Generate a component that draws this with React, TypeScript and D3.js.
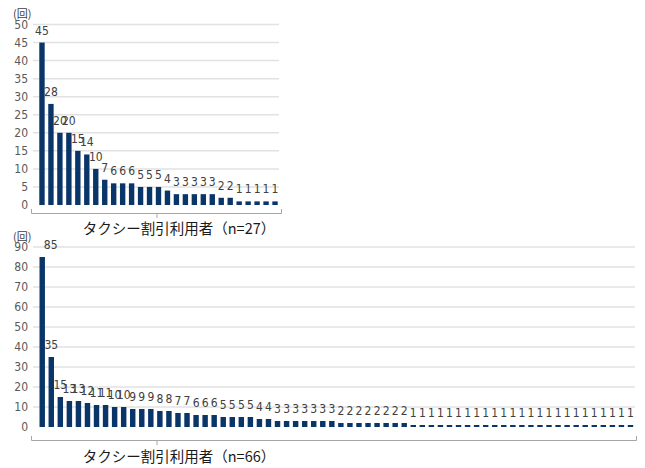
import React from "react";
import * as d3 from "d3";

const topValues = [45, 28, 20, 20, 15, 14, 10, 7, 6, 6, 6, 5, 5, 5, 4, 3, 3, 3, 3, 3, 2, 2, 1, 1, 1, 1, 1];
const bottomValues = [
  85, 35, 15, 13, 13, 12, 11, 11, 10, 10, 9, 9, 9, 8, 8, 7, 7, 6, 6, 6, 5, 5, 5, 5, 4, 4,
  3, 3, 3, 3, 3, 3, 3,
  2, 2, 2, 2, 2, 2, 2, 2,
  1, 1, 1, 1, 1, 1, 1, 1, 1, 1, 1, 1, 1, 1, 1, 1, 1, 1, 1, 1, 1, 1, 1, 1, 1,
];
const topTicks = [0, 5, 10, 15, 20, 25, 30, 35, 40, 45, 50];
const bottomTicks = [0, 10, 20, 30, 40, 50, 60, 70, 80, 90];
const topTitle = "タクシー割引利用者（n=27）";
const bottomTitle = "タクシー割引利用者（n=66）";
const unitLabel = "(回)";

const BAR = "#0a3568";
const NUM_FONT = "'Liberation Sans Narrow', 'Arial Narrow', 'DejaVu Sans Condensed', sans-serif";
const JP_FONT = "'Noto Sans CJK JP', sans-serif";

type PanelProps = {
  values: number[];
  ticks: number[];
  title: string;
  yTop: number;
  yBase: number;
  xStart: number;
  xEnd: number;
  gridLeft: number;
  gridRight: number;
  axisY: number;
  axisLeft: number;
  axisRight: number;
  titleY: number;
  unitY: number;
  firstLabelDx: number;
};

function Panel(p: PanelProps) {
  const max = p.ticks[p.ticks.length - 1];
  const x = d3
    .scaleBand<number>()
    .domain(p.values.map((_, i) => i))
    .range([p.xStart, p.xEnd])
    .paddingInner(0.4)
    .paddingOuter(0.2);
  const y = d3.scaleLinear().domain([0, max]).range([p.yBase, p.yTop]);
  const bw = x.bandwidth();
  const tickX = 157;
  const titleX = 179;
  return (
    <g>
      <text x={13} y={p.unitY} fontSize={11} fill="#404040" fontFamily={JP_FONT}>
        {unitLabel}
      </text>
      {p.ticks.map((t) => (
        <g key={t}>
          {t > 0 && (
            <line
              x1={p.gridLeft}
              x2={p.gridRight}
              y1={y(t)}
              y2={y(t)}
              stroke="#e2e2e2"
              strokeWidth={1.5}
            />
          )}
          <text
            x={28}
            y={y(t)}
            dy="0.35em"
            textAnchor="end"
            fontSize={12}
            fill="#595959"
            fontFamily={NUM_FONT}
          >
            {t}
          </text>
        </g>
      ))}
      {p.values.map((v, i) => (
        <g key={i}>
          <rect x={x(i)} y={y(v)} width={bw} height={p.yBase - y(v)} fill={BAR} />
          <text
            x={(x(i) as number) + bw / 2 + (i === 0 ? p.firstLabelDx : 0)}
            y={y(v) - 8}
            textAnchor="middle"
            fontSize={12}
            fill="#404040"
            fontFamily={NUM_FONT}
          >
            {v}
          </text>
        </g>
      ))}
      <path
        d={`M${p.axisLeft},${p.axisY - 4.5}V${p.axisY}H${p.axisRight}V${p.axisY - 4.5}`}
        fill="none"
        stroke="#a6a6a6"
        strokeWidth={1}
      />
      <line x1={tickX} x2={tickX} y1={p.axisY} y2={p.axisY + 4.5} stroke="#a6a6a6" strokeWidth={1} />
      <text x={titleX} y={p.titleY} textAnchor="middle" fontSize={14.5} fill="#1a1a1a" fontFamily={JP_FONT}>
        {p.title}
      </text>
    </g>
  );
}

export default function App() {
  return (
    <div style={{ position: "fixed", left: 0, top: 0 }}>
      <svg width={645} height={468} style={{ display: "block", background: "#fff" }}>
        <Panel
          values={topValues}
          ticks={topTicks}
          title={topTitle}
          yTop={24.5}
          yBase={205}
          xStart={37.5}
          xEnd={279.5}
          gridLeft={33}
          gridRight={279}
          axisY={213.5}
          axisLeft={31.5}
          axisRight={281.5}
          titleY={234}
          unitY={18}
          firstLabelDx={0}
        />
        <Panel
          values={bottomValues}
          ticks={bottomTicks}
          title={bottomTitle}
          yTop={247}
          yBase={427}
          xStart={37.7}
          xEnd={635}
          gridLeft={33}
          gridRight={635}
          axisY={440.5}
          axisLeft={31.5}
          axisRight={636.5}
          titleY={462}
          unitY={241}
          firstLabelDx={8.5}
        />
      </svg>
    </div>
  );
}
